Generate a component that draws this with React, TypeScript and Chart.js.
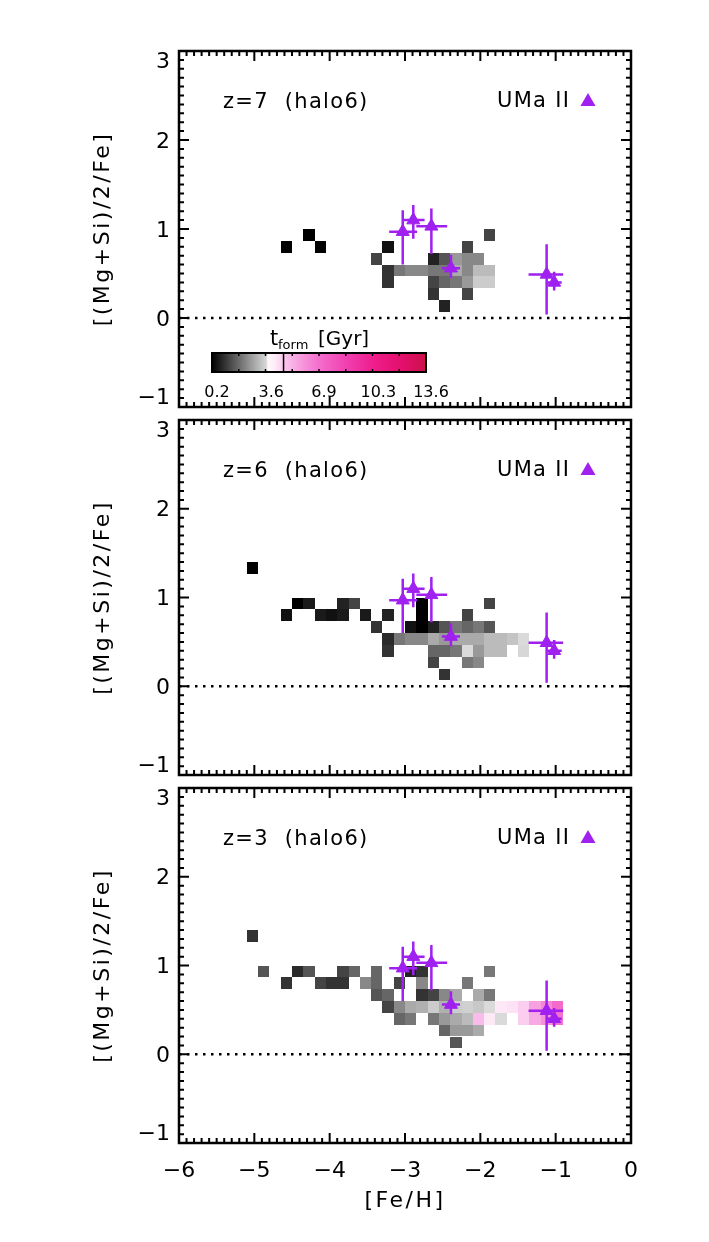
import { useEffect, useRef } from "react";
import { Chart, registerables } from "chart.js";

Chart.register(...registerables);

const FONT = "DejaVu Sans";
const PURPLE = "#a020f0";

// axis ranges, histogram binning and tick values
const FEH_RANGE = [-6, 0];
const RATIO_RANGE = [-1, 3];
const FEH_BIN = 0.15;
const RATIO_BIN = 4 / 30;
const X_TICKS = [-6, -5, -4, -3, -2, -1, 0];
const Y_TICKS = [-1, 0, 1, 2, 3];

// UMa II member stars: [Fe/H], [(Mg+Si)/2/Fe] and their error bars
const UMA_FEH = [-3.03, -2.89, -2.65, -2.39, -1.12, -1.02];
const UMA_RATIO = [0.97, 1.1, 1.03, 0.56, 0.49, 0.4];
const UMA_FEH_ERR_LO = [0.18, 0.15, 0.2, 0.12, 0.24, 0.1];
const UMA_FEH_ERR_HI = [0.19, 0.15, 0.21, 0.12, 0.22, 0.1];
const UMA_RATIO_ERR_LO = [0.37, 0.21, 0.31, 0.11, 0.45, 0.09];
const UMA_RATIO_ERR_HI = [0.24, 0.17, 0.2, 0.15, 0.34, 0.12];

// t_form colour table (Gyr -> rgb)
const CMAP_T = [0.2, 3.6, 3.7, 4.2, 4.7, 5.5, 6.9, 8.6, 10.3, 12.0, 13.6];
const CMAP_RGB = [
  [0, 0, 0],
  [215, 215, 215],
  [255, 250, 253],
  [253, 232, 246],
  [250, 200, 238],
  [248, 165, 225],
  [244, 110, 205],
  [240, 64, 176],
  [238, 30, 140],
  [228, 16, 110],
  [205, 16, 75],
];
const CBAR_TICKS = [0.2, 3.6, 6.9, 10.3, 13.6];
const CBAR_MARK = 4.68;

// simulated stars binned in ([Fe/H], ratio); each cell: [Fe/H centre, ratio centre, mean t_form in Gyr]
const CELLS_Z7 = [
  [-4.275, 0.933, 0.2], [-1.875, 0.933, 1.28],
  [-4.575, 0.8, 0.2], [-4.125, 0.8, 0.2], [-3.225, 0.8, 0.47], [-2.175, 0.8, 1.28],
  [-3.375, 0.667, 1.28], [-2.625, 0.667, 0.74], [-2.475, 0.667, 1.54], [-2.325, 0.667, 2.62],
  [-2.175, 0.667, 2.35], [-2.025, 0.667, 2.35],
  [-3.225, 0.533, 1.01], [-3.075, 0.533, 2.08], [-2.925, 0.533, 2.35], [-2.775, 0.533, 2.35],
  [-2.625, 0.533, 2.08], [-2.475, 0.533, 2.08], [-2.325, 0.533, 2.89], [-2.175, 0.533, 2.35],
  [-2.025, 0.533, 3.16], [-1.875, 0.533, 3.16],
  [-3.225, 0.4, 1.01], [-2.625, 0.4, 1.28], [-2.475, 0.4, 1.81], [-2.325, 0.4, 2.08],
  [-2.175, 0.4, 2.62], [-2.025, 0.4, 3.43], [-1.875, 0.4, 3.43],
  [-2.625, 0.267, 1.01], [-2.175, 0.267, 1.28],
  [-2.475, 0.133, 0.74],
];

const CELLS_Z6 = [
  [-5.025, 1.333, 0.2],
  [-4.425, 0.933, 0.2], [-4.275, 0.933, 0.61], [-3.825, 0.933, 0.74], [-3.675, 0.933, 1.28],
  [-2.775, 0.933, 0.2], [-1.875, 0.933, 1.28],
  [-4.575, 0.8, 0.47], [-4.125, 0.8, 0.61], [-3.975, 0.8, 0.47], [-3.825, 0.8, 0.61],
  [-3.525, 0.8, 0.61], [-3.225, 0.8, 0.74], [-2.775, 0.8, 0.2], [-2.175, 0.8, 1.28],
  [-3.375, 0.667, 1.01], [-2.925, 0.667, 0.47], [-2.775, 0.667, 0.2], [-2.625, 0.667, 0.74],
  [-2.475, 0.667, 1.54], [-2.325, 0.667, 2.08], [-2.175, 0.667, 1.81], [-2.025, 0.667, 2.08],
  [-1.875, 0.667, 1.54],
  [-3.225, 0.533, 0.86], [-3.075, 0.533, 2.08], [-2.925, 0.533, 2.35], [-2.775, 0.533, 2.35],
  [-2.625, 0.533, 2.89], [-2.475, 0.533, 2.62], [-2.325, 0.533, 2.89], [-2.175, 0.533, 2.89],
  [-2.025, 0.533, 2.89], [-1.875, 0.533, 3.16], [-1.725, 0.533, 3.16], [-1.575, 0.533, 3.3],
  [-1.425, 0.533, 3.61],
  [-3.225, 0.4, 1.01], [-2.625, 0.4, 1.81], [-2.475, 0.4, 1.81], [-2.325, 0.4, 2.08],
  [-2.175, 0.4, 3.61], [-2.025, 0.4, 2.62], [-1.875, 0.4, 3.16], [-1.725, 0.4, 3.16],
  [-1.425, 0.4, 3.6],
  [-2.625, 0.267, 1.28], [-2.175, 0.267, 2.08], [-2.025, 0.267, 2.35],
  [-2.475, 0.133, 1.01],
];

const CELLS_Z3 = [
  [-5.025, 1.333, 1.01],
  [-4.875, 0.933, 1.54], [-4.425, 0.933, 0.86], [-4.275, 0.933, 1.54], [-3.825, 0.933, 1.28],
  [-3.675, 0.933, 1.81], [-3.375, 0.933, 1.81], [-2.925, 0.933, 0.74], [-2.775, 0.933, 1.01],
  [-1.875, 0.933, 2.08],
  [-4.575, 0.8, 1.01], [-4.125, 0.8, 1.28], [-3.975, 0.8, 1.01], [-3.825, 0.8, 1.01],
  [-3.525, 0.8, 2.35], [-3.375, 0.8, 1.81], [-3.075, 0.8, 1.28], [-2.775, 0.8, 2.35],
  [-2.175, 0.8, 2.08],
  [-3.375, 0.667, 1.54], [-3.225, 0.667, 1.81], [-2.775, 0.667, 1.01], [-2.625, 0.667, 1.28],
  [-2.475, 0.667, 2.35], [-2.325, 0.667, 2.89], [-2.025, 0.667, 2.89], [-1.875, 0.667, 2.08],
  [-3.225, 0.533, 1.28], [-3.075, 0.533, 2.35], [-2.925, 0.533, 2.89], [-2.775, 0.533, 2.98],
  [-2.625, 0.533, 3.43], [-2.475, 0.533, 2.98], [-2.325, 0.533, 3.43], [-2.175, 0.533, 3.49],
  [-2.025, 0.533, 3.36], [-1.875, 0.533, 3.61], [-1.725, 0.533, 4.2], [-1.575, 0.533, 4.3],
  [-1.425, 0.533, 4.6], [-1.275, 0.533, 5.6], [-1.125, 0.533, 6.3], [-0.975, 0.533, 7.0],
  [-3.075, 0.4, 1.81], [-2.925, 0.4, 2.08], [-2.625, 0.4, 2.08], [-2.475, 0.4, 2.62],
  [-2.325, 0.4, 2.89], [-2.175, 0.4, 3.16], [-2.025, 0.4, 5.0], [-1.875, 0.4, 4.2],
  [-1.725, 0.4, 3.61], [-1.425, 0.4, 4.6], [-1.275, 0.4, 5.4], [-1.125, 0.4, 6.0],
  [-0.975, 0.4, 6.8],
  [-2.475, 0.267, 1.81], [-2.325, 0.267, 2.62], [-2.175, 0.267, 2.62], [-2.025, 0.267, 2.89],
  [-2.325, 0.133, 1.54],
];

const PANEL_CELLS = [CELLS_Z7, CELLS_Z6, CELLS_Z3];
const PANEL_LABELS = ["z=7  (halo6)", "z=6  (halo6)", "z=3  (halo6)"];
const LEGEND_LABEL = "UMa II";
const Y_TITLE = "[(Mg+Si)/2/Fe]";
const X_TITLE = "[Fe/H]";

// page layout (px)
const PAGE_W = 709;
const PAGE_H = 1242;
const FRAME_LEFT = 179;
const FRAME_RIGHT = 631;
const FRAME_TOP = [51, 420, 788];
const FRAME_BOTTOM = [407, 775, 1143];
const CANVAS_TOP = [0, 413, 781];
const CANVAS_BOTTOM = [413, 781, PAGE_H];

function tformColor(t: number): string {
  const n = CMAP_T.length;
  let c = CMAP_RGB[n - 1];
  if (t <= CMAP_T[0]) c = CMAP_RGB[0];
  else {
    for (let i = 1; i < n; i++) {
      if (t <= CMAP_T[i]) {
        const f = (t - CMAP_T[i - 1]) / (CMAP_T[i] - CMAP_T[i - 1]);
        const a = CMAP_RGB[i - 1];
        const b = CMAP_RGB[i];
        c = [0, 1, 2].map((k) => Math.round(a[k] + (b[k] - a[k]) * f));
        break;
      }
    }
  }
  return `rgb(${c[0]},${c[1]},${c[2]})`;
}

const fmtTick = (v: number) => (v < 0 ? "\u2212" + Math.abs(v) : String(v));

function drawColorbar(ctx: CanvasRenderingContext2D, ca: any) {
  const left = ca.left + 33;
  const top = ca.top + 302;
  const w = 214;
  const h = 19;
  const tMin = CBAR_TICKS[0];
  const tMax = CBAR_TICKS[CBAR_TICKS.length - 1];
  const pos = (t: number) => left + ((t - tMin) / (tMax - tMin)) * w;

  const grad = ctx.createLinearGradient(left, 0, left + w, 0);
  for (let i = 0; i <= 200; i++) {
    grad.addColorStop(i / 200, tformColor(tMin + ((tMax - tMin) * i) / 200));
  }
  ctx.fillStyle = grad;
  ctx.fillRect(left, top, w, h);

  ctx.strokeStyle = "#000";
  ctx.lineWidth = 1.5;
  ctx.beginPath();
  ctx.moveTo(pos(CBAR_MARK), top);
  ctx.lineTo(pos(CBAR_MARK), top + h);
  ctx.stroke();

  ctx.lineWidth = 1.5;
  ctx.beginPath();
  for (let n = 1; n < 8; n++) {
    const px = left + (w * n) / 8;
    ctx.moveTo(px, top);
    ctx.lineTo(px, top + 3);
    ctx.moveTo(px, top + h);
    ctx.lineTo(px, top + h - 3);
  }
  ctx.stroke();
  ctx.lineWidth = 2;
  ctx.strokeRect(left, top, w, h);

  ctx.fillStyle = "#000";
  ctx.textAlign = "center";
  ctx.textBaseline = "alphabetic";
  ctx.font = `16px "${FONT}"`;
  (ctx as any).letterSpacing = "0px";
  for (const t of CBAR_TICKS) ctx.fillText(String(t), pos(t) + 5, top + h + 25);

  ctx.textAlign = "left";
  ctx.font = `21px "${FONT}"`;
  ctx.fillText("t", left + 58, top - 8);
  ctx.font = `13px "${FONT}"`;
  ctx.fillText("form", left + 66, top - 4);
  ctx.font = `20px "${FONT}"`;
  ctx.fillText("[Gyr]", left + 106, top - 8);
}

function makeDecorPlugin(panel: number) {
  return {
    id: "panelDecor",
    beforeDatasetsDraw(chart: any) {
      const { ctx, scales } = chart;
      const x = scales.x;
      const y = scales.y;
      ctx.save();
      // histogram cells coloured by formation time
      for (const [feh, ratio, t] of PANEL_CELLS[panel]) {
        const l = Math.round(x.getPixelForValue(feh - FEH_BIN / 2));
        const r = Math.round(x.getPixelForValue(feh + FEH_BIN / 2));
        const tp = Math.round(y.getPixelForValue(ratio + RATIO_BIN / 2));
        const b = Math.round(y.getPixelForValue(ratio - RATIO_BIN / 2));
        ctx.fillStyle = tformColor(t);
        ctx.fillRect(l, tp, r - l, b - tp);
      }
      // UMa II error bars
      ctx.strokeStyle = PURPLE;
      ctx.lineWidth = 2.5;
      ctx.beginPath();
      for (let i = 0; i < UMA_FEH.length; i++) {
        const cx = x.getPixelForValue(UMA_FEH[i]);
        const cy = y.getPixelForValue(UMA_RATIO[i]);
        ctx.moveTo(x.getPixelForValue(UMA_FEH[i] - UMA_FEH_ERR_LO[i]), cy);
        ctx.lineTo(x.getPixelForValue(UMA_FEH[i] + UMA_FEH_ERR_HI[i]), cy);
        ctx.moveTo(cx, y.getPixelForValue(UMA_RATIO[i] - UMA_RATIO_ERR_LO[i]));
        ctx.lineTo(cx, y.getPixelForValue(UMA_RATIO[i] + UMA_RATIO_ERR_HI[i]));
      }
      ctx.stroke();
      ctx.restore();
    },
    afterDraw(chart: any) {
      const { ctx, chartArea: ca, scales } = chart;
      const x = scales.x;
      const y = scales.y;
      ctx.save();
      ctx.strokeStyle = "#000";
      ctx.lineWidth = 2;
      ctx.beginPath();
      // inward ticks on all four sides: major every 1, minor every 0.1
      for (let i = 0; i <= 60; i++) {
        const px = x.getPixelForValue(FEH_RANGE[0] + i / 10);
        const len = i % 10 === 0 ? 10 : 5;
        ctx.moveTo(px, ca.bottom);
        ctx.lineTo(px, ca.bottom - len);
        ctx.moveTo(px, ca.top);
        ctx.lineTo(px, ca.top + len);
      }
      for (let i = 0; i <= 40; i++) {
        const py = y.getPixelForValue(RATIO_RANGE[0] + i / 10);
        const len = i % 10 === 0 ? 10 : 5;
        ctx.moveTo(ca.left, py);
        ctx.lineTo(ca.left + len, py);
        ctx.moveTo(ca.right, py);
        ctx.lineTo(ca.right - len, py);
      }
      ctx.stroke();
      ctx.lineWidth = 2.5;
      ctx.strokeRect(ca.left, ca.top, ca.right - ca.left, ca.bottom - ca.top);

      ctx.fillStyle = "#000";
      // y tick labels (end labels kept inside the frame height)
      ctx.font = `22px "${FONT}"`;
      ctx.textAlign = "right";
      ctx.textBaseline = "middle";
      for (const v of Y_TICKS) {
        let py = y.getPixelForValue(v) + 2;
        if (v === RATIO_RANGE[1]) py += 9;
        if (v === RATIO_RANGE[0]) py -= 11;
        ctx.fillText(fmtTick(v), ca.left - 9, py);
      }

      // panel label and legend
      ctx.font = `21px "${FONT}"`;
      (ctx as any).letterSpacing = "1.3px";
      ctx.textAlign = "left";
      ctx.textBaseline = "alphabetic";
      ctx.fillText(PANEL_LABELS[panel], ca.left + 44, ca.top + 57);
      ctx.fillText(LEGEND_LABEL, ca.left + 318, ca.top + 56);
      const tx = ca.left + 409;
      const ty = ca.top + 49;
      ctx.fillStyle = PURPLE;
      ctx.beginPath();
      ctx.moveTo(tx, ty - 7);
      ctx.lineTo(tx + 7.5, ty + 6);
      ctx.lineTo(tx - 7.5, ty + 6);
      ctx.closePath();
      ctx.fill();

      // axis titles
      ctx.fillStyle = "#000";
      ctx.font = `22px "${FONT}"`;
      (ctx as any).letterSpacing = "2.5px";
      ctx.textAlign = "center";
      ctx.textBaseline = "middle";
      ctx.save();
      ctx.translate(103, (ca.top + ca.bottom) / 2);
      ctx.rotate(-Math.PI / 2);
      ctx.fillText(Y_TITLE, 0, 0);
      ctx.restore();
      if (panel === 2) {
        ctx.fillText(X_TITLE, (ca.left + ca.right) / 2, ca.bottom + 58);
      }
      (ctx as any).letterSpacing = "0px";

      if (panel === 0) drawColorbar(ctx, ca);
      ctx.restore();
    },
  };
}

function Panel({ index }: { index: number }) {
  const ref = useRef<HTMLCanvasElement>(null);
  const canvasTop = CANVAS_TOP[index];
  const canvasH = CANVAS_BOTTOM[index] - canvasTop;
  const isLast = index === 2;

  useEffect(() => {
    const frameTop = FRAME_TOP[index] - canvasTop;
    const frameBottom = FRAME_BOTTOM[index] - canvasTop;
    const xAxisH = isLast ? canvasH - frameBottom : 0;
    const chart = new Chart(ref.current as HTMLCanvasElement, {
      type: "scatter",
      data: {
        datasets: [
          {
            label: LEGEND_LABEL,
            data: UMA_FEH.map((v, i) => ({ x: v, y: UMA_RATIO[i] })),
            pointStyle: "triangle",
            pointRadius: 7.5,
            backgroundColor: PURPLE,
            borderColor: PURPLE,
            borderWidth: 1,
          },
          {
            type: "line",
            label: "zero",
            data: [
              { x: FEH_RANGE[0], y: 0 },
              { x: FEH_RANGE[1], y: 0 },
            ],
            borderColor: "#000",
            borderWidth: 2.5,
            borderDash: [2.5, 5.5],
            pointRadius: 0,
            fill: false,
          },
        ],
      } as any,
      options: {
        responsive: false,
        animation: false,
        devicePixelRatio: 1,
        events: [],
        layout: {
          autoPadding: false,
          padding: {
            left: 0,
            top: frameTop,
            right: PAGE_W - FRAME_RIGHT,
            bottom: isLast ? 0 : canvasH - frameBottom,
          },
        },
        plugins: {
          legend: { display: false },
          tooltip: { enabled: false },
        },
        scales: {
          x: {
            type: "linear",
            min: FEH_RANGE[0],
            max: FEH_RANGE[1],
            afterBuildTicks: (s: any) => {
              s.ticks = X_TICKS.map((v) => ({ value: v }));
            },
            afterFit: (s: any) => {
              s.height = xAxisH;
              s.paddingLeft = 0;
              s.paddingRight = 0;
            },
            grid: { display: false, drawTicks: false },
            border: { display: false },
            ticks: {
              display: isLast,
              padding: 15,
              maxRotation: 0,
              autoSkip: false,
              color: "#000",
              font: { family: FONT, size: 22 },
              callback: (v: any) => fmtTick(Number(v)),
            },
          },
          y: {
            type: "linear",
            min: RATIO_RANGE[0],
            max: RATIO_RANGE[1],
            afterBuildTicks: (s: any) => {
              s.ticks = Y_TICKS.map((v) => ({ value: v }));
            },
            afterFit: (s: any) => {
              s.width = FRAME_LEFT;
              s.paddingTop = 0;
              s.paddingBottom = 0;
            },
            grid: { display: false, drawTicks: false },
            border: { display: false },
            ticks: { display: false },
          },
        },
      } as any,
      plugins: [makeDecorPlugin(index)],
    });
    return () => chart.destroy();
  }, [index]);

  return (
    <canvas
      ref={ref}
      width={PAGE_W}
      height={canvasH}
      style={{ position: "absolute", left: 0, top: canvasTop, display: "block" }}
    />
  );
}

export default function App() {
  return (
    <div
      style={{
        position: "absolute",
        left: 0,
        top: 0,
        width: PAGE_W,
        height: PAGE_H,
        background: "#fff",
        overflow: "hidden",
      }}
    >
      {[0, 1, 2].map((i) => (
        <Panel key={i} index={i} />
      ))}
    </div>
  );
}
